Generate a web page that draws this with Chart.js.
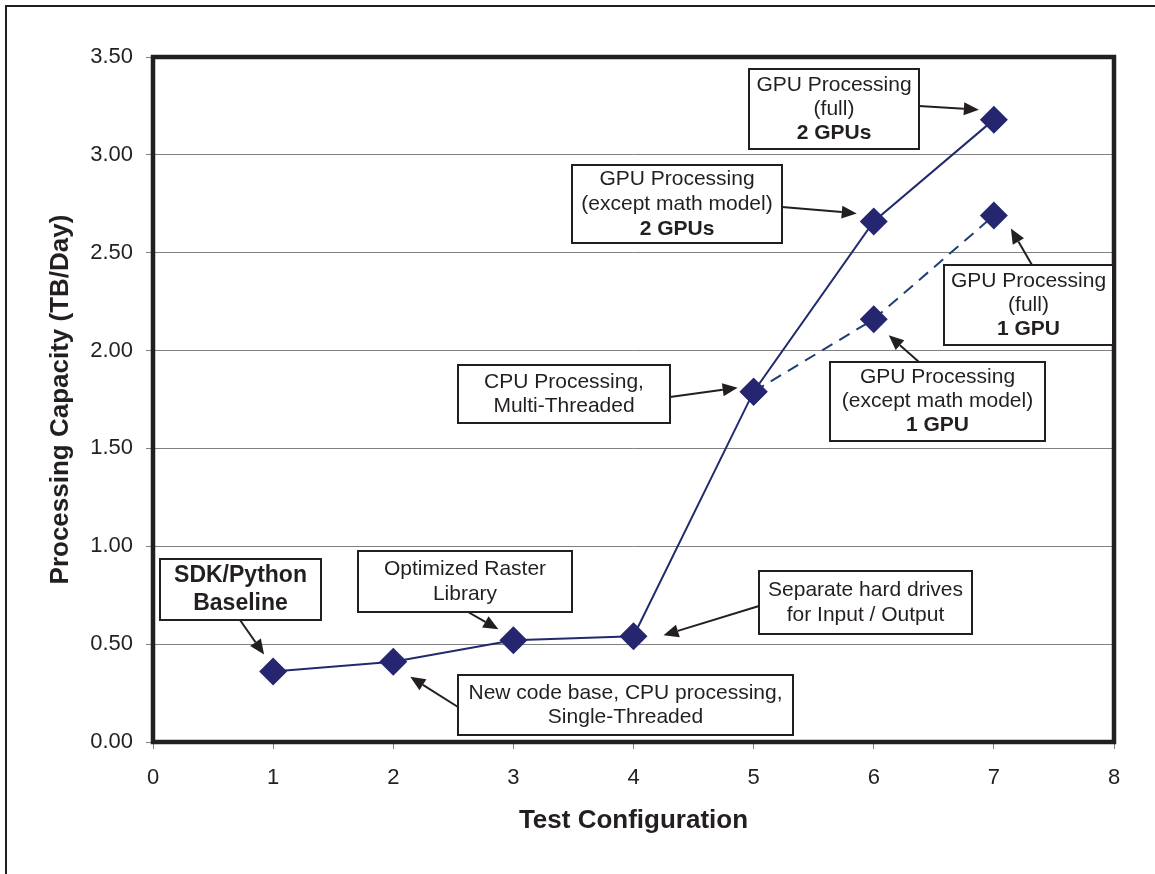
<!DOCTYPE html>
<html>
<head>
<meta charset="utf-8">
<title>Processing Capacity</title>
<script src="https://cdn.jsdelivr.net/npm/chart.js@4/dist/chart.umd.min.js"></script>
<style>
  html, body { margin: 0; padding: 0; background: #fff; }
  #wrap { position: relative; width: 1155px; height: 874px; }
</style>
</head>
<body>
<div id="wrap"><canvas id="myChart"></canvas></div>
<script>
// Test configurations and measured capacity (TB/day)
const configs = [1, 2, 3, 4, 5, 6, 7];
const capacityTwoGpu = [0.36, 0.41, 0.52, 0.54, 1.79, 2.66, 3.18];
const configsOneGpu = [5, 6, 7];
const capacityOneGpu = [1.79, 2.16, 2.69];

const xMin = 0, xMax = 8, xStep = 1;
const yMin = 0, yMax = 3.5, yStep = 0.5;

const FONT = '"Liberation Sans", Arial, Helvetica, sans-serif';
const INK = '#231f20';
const NAVY = '#25266f';

// Callout boxes: text lines, which lines are bold, box [left, top, w, h],
// arrow tail, and the point the arrow points at (dataset, index, offset)
const notes = [
  { lines: ['SDK/Python', 'Baseline'], bold: [true, true], size: 23, gap: 28,
    box: [160, 559, 161, 61], from: [240, 620], ds: 0, idx: 0, off: [-9, -17] },
  { lines: ['Optimized Raster', 'Library'], bold: [false, false], size: 21, gap: 25,
    box: [358, 551, 214, 61], from: [468, 612], ds: 0, idx: 2, off: [-15, -11] },
  { lines: ['New code base, CPU processing,', 'Single-Threaded'], bold: [false, false], size: 21, gap: 24,
    box: [458, 675, 335, 60], from: [458, 707], ds: 0, idx: 1, off: [17, 15] },
  { lines: ['Separate hard drives', 'for Input / Output'], bold: [false, false], size: 21, gap: 25,
    box: [759, 571, 213, 63], from: [759, 606], ds: 0, idx: 3, off: [30, -1] },
  { lines: ['CPU Processing,', 'Multi-Threaded'], bold: [false, false], size: 21, gap: 24,
    box: [458, 365, 212, 58], from: [670, 397], ds: 0, idx: 4, off: [-16, -4] },
  { lines: ['GPU Processing', '(except math model)', '1 GPU'], bold: [false, false, true], size: 21, gap: 24,
    box: [830, 362, 215, 79], from: [919, 362], ds: 1, idx: 1, off: [15, 16] },
  { lines: ['GPU Processing', '(full)', '1 GPU'], bold: [false, false, true], size: 21, gap: 24,
    box: [944, 265, 169, 80], from: [1032, 265], ds: 1, idx: 2, off: [17, 13] },
  { lines: ['GPU Processing', '(except math model)', '2 GPUs'], bold: [false, false, true], size: 21, gap: 25,
    box: [572, 165, 210, 78], from: [782, 207], ds: 0, idx: 5, off: [-17, -8] },
  { lines: ['GPU Processing', '(full)', '2 GPUs'], bold: [false, false, true], size: 21, gap: 24,
    box: [749, 69, 170, 80], from: [919, 106], ds: 0, idx: 6, off: [-15, -10] }
];

function drawArrow(ctx, x1, y1, x2, y2) {
  const ang = Math.atan2(y2 - y1, x2 - x1);
  const len = 15, half = 6.5;
  const bx = x2 - Math.cos(ang) * len, by = y2 - Math.sin(ang) * len;
  ctx.beginPath();
  ctx.moveTo(x1, y1);
  ctx.lineTo(bx, by);
  ctx.stroke();
  ctx.beginPath();
  ctx.moveTo(x2, y2);
  ctx.lineTo(bx + Math.sin(ang) * half, by - Math.cos(ang) * half);
  ctx.lineTo(bx - Math.sin(ang) * half, by + Math.cos(ang) * half);
  ctx.closePath();
  ctx.fill();
}

const chartDecor = {
  id: 'chartDecor',
  beforeDraw(chart) {
    // outer figure frame
    const ctx = chart.ctx;
    ctx.save();
    ctx.strokeStyle = INK;
    ctx.lineWidth = 2;
    ctx.beginPath();
    ctx.moveTo(6, chart.height);
    ctx.lineTo(6, 6);
    ctx.lineTo(chart.width, 6);
    ctx.stroke();
    ctx.restore();
  },
  afterDatasetsDraw(chart) {
    // heavy plot-area border
    const {ctx, chartArea: a} = chart;
    ctx.save();
    ctx.strokeStyle = INK;
    ctx.lineWidth = 4.5;
    ctx.strokeRect(a.left, a.top, a.right - a.left, a.bottom - a.top);
    ctx.restore();
  },
  afterDraw(chart) {
    const ctx = chart.ctx;
    ctx.save();
    notes.forEach(n => {
      const [bx, by, bw, bh] = n.box;
      const pt = chart.getDatasetMeta(n.ds).data[n.idx];
      ctx.strokeStyle = INK;
      ctx.fillStyle = INK;
      ctx.lineWidth = 2;
      drawArrow(ctx, n.from[0], n.from[1], pt.x + n.off[0], pt.y + n.off[1]);

      ctx.fillStyle = '#fff';
      ctx.fillRect(bx, by, bw, bh);
      ctx.strokeRect(bx, by, bw, bh);

      ctx.fillStyle = INK;
      ctx.textAlign = 'center';
      ctx.textBaseline = 'middle';
      const cy = by + bh / 2;
      n.lines.forEach((line, i) => {
        ctx.font = (n.bold[i] ? 'bold ' : '') + n.size + 'px ' + FONT;
        ctx.fillText(line, bx + bw / 2, cy + (i - (n.lines.length - 1) / 2) * n.gap);
      });
    });
    ctx.restore();
  }
};

const ctx = document.getElementById('myChart');

new Chart(ctx, {
  type: 'line',
  data: {
    datasets: [{
      data: configs.map((c, i) => ({ x: c, y: capacityTwoGpu[i] })),
      borderColor: '#222a6e',
      backgroundColor: NAVY,
      borderWidth: 2,
      tension: 0,
      pointStyle: 'rectRot',
      pointRadius: 14,
      pointBorderWidth: 0,
      pointBackgroundColor: NAVY
    }, {
      data: configsOneGpu.map((c, i) => ({ x: c, y: capacityOneGpu[i] })),
      borderColor: '#1f3f72',
      backgroundColor: NAVY,
      borderWidth: 2,
      borderDash: [12, 8],
      tension: 0,
      pointStyle: 'rectRot',
      pointRadius: 14,
      pointBorderWidth: 0,
      pointBackgroundColor: NAVY
    }]
  },
  options: {
    responsive: true,
    maintainAspectRatio: false,
    animation: false,
    events: [],
    layout: { padding: { top: 57, right: 41, left: 0, bottom: 0 } },
    plugins: {
      legend: { display: false },
      tooltip: { enabled: false }
    },
    scales: {
      x: {
        type: 'linear',
        min: xMin,
        max: xMax,
        afterFit: s => { s.height = 132; },
        border: { display: false },
        grid: { drawOnChartArea: false, drawTicks: true, tickLength: 7, color: '#808080' },
        ticks: {
          stepSize: xStep,
          padding: 16,
          color: INK,
          font: { family: FONT, size: 22 }
        },
        title: {
          display: true,
          text: 'Test Configuration',
          color: INK,
          font: { family: FONT, size: 26, weight: 'bold' },
          padding: { top: 0, bottom: 38 }
        }
      },
      y: {
        min: yMin,
        max: yMax,
        afterFit: s => { s.width = 153; },
        border: { display: false },
        grid: { drawTicks: true, tickLength: 7, color: '#808080', lineWidth: 1 },
        ticks: {
          stepSize: yStep,
          padding: 13,
          color: INK,
          font: { family: FONT, size: 22 },
          callback: v => v.toFixed(2)
        },
        title: {
          display: true,
          text: 'Processing Capacity (TB/Day)',
          color: INK,
          font: { family: FONT, size: 26, weight: 'bold' },
          padding: { top: 45, bottom: 0 }
        }
      }
    }
  },
  plugins: [chartDecor]
});
</script>
</body>
</html>
